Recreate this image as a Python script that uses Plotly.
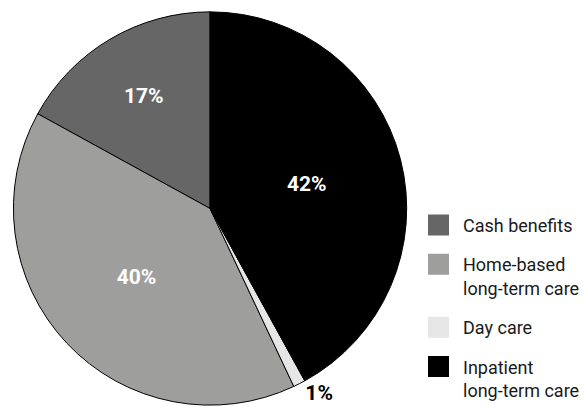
import plotly.graph_objects as go

labels = ["Cash benefits", "Home-based<br>long-term care", "Day care", "Inpatient<br>long-term care"]
values = [17, 40, 1, 42]
texts = ["17%", "40%", "1%", "42%"]
colors = ["#666666", "#9e9e9d", "#e6e6e6", "#000000"]

FONT = "Roboto, sans-serif"

fig = go.Figure()
fig.add_trace(go.Pie(
    labels=labels,
    values=values,
    text=texts,
    textinfo="text",
    textposition=["inside", "inside", "outside", "inside"],
    insidetextfont=dict(color="white", size=21, family=FONT, weight="bold"),
    outsidetextfont=dict(color="black", size=21, family=FONT, weight="bold"),
    insidetextorientation="horizontal",
    sort=False,
    direction="counterclockwise",
    rotation=-values[0] / sum(values) * 360,
    marker=dict(colors=colors, line=dict(color="black", width=1)),
    domain=dict(x=[0.0231, 0.7], y=[0.0228, 0.9748]),
    automargin=False,
    hoverinfo="skip",
    showlegend=False,
))

# legend entries
for lab, col in zip(labels, colors):
    fig.add_trace(go.Scatter(
        x=[None], y=[None], mode="markers", name=lab, legendgroup=lab,
        marker=dict(symbol="square", size=16, color=col, line=dict(width=5, color=col)),
        hoverinfo="skip",
    ))

fig.update_layout(
    width=585, height=416,
    margin=dict(l=0, r=0, t=0, b=0),
    paper_bgcolor="white",
    plot_bgcolor="white",
    xaxis=dict(visible=False),
    yaxis=dict(visible=False),
    font=dict(family=FONT, size=18, color="#1a1a1a"),
    showlegend=True,
    legend=dict(
        x=417 / 585, y=0.503, xanchor="left", yanchor="top",
        traceorder="grouped",
        valign="top",
        font=dict(family=FONT, size=18, color="#1a1a1a"),
        tracegroupgap=13,
        itemwidth=39,
        bgcolor="rgba(0,0,0,0)",
    ),
)

fig.write_html(
    "out.html",
    config={"displayModeBar": False},
    post_script="document.body.style.margin='0';",
)
